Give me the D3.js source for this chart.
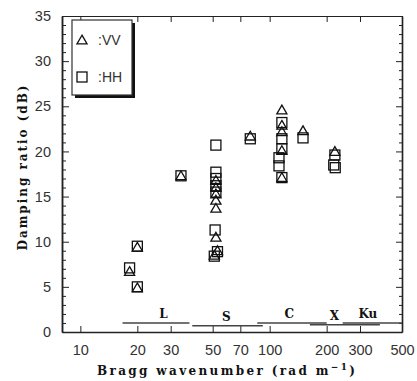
<!DOCTYPE html>
<html><head><meta charset="utf-8">
<script src="https://cdn.jsdelivr.net/npm/d3@7"></script>
<style>body{margin:0;background:#fff}</style>
</head><body>
<script>
// Data
const xTicks = [10, 20, 30, 50, 70, 100, 200, 300, 500];
const yTicks = [0, 5, 10, 15, 20, 25, 30, 35];

const vvK    = [18.2, 20, 20, 34, 52, 52, 52, 52, 52, 52, 51, 53, 79, 116, 116, 116, 116, 116, 150, 221];
const vvDamp = [6.7, 9.4, 4.9, 17.3, 16.8, 16.0, 15.3, 14.6, 13.7, 10.5, 8.5, 9.0, 21.7, 24.6, 22.9, 22.2, 20.1, 17.1, 22.3, 20.0];

const hhK    = [18.2, 20, 20, 34, 52, 52, 52, 52, 52, 51.5, 51, 53, 79, 116, 116, 116, 112, 112, 116, 150, 221, 218, 222];
const hhDamp = [7.1, 9.5, 5.0, 17.3, 20.7, 17.7, 17.0, 16.2, 15.5, 11.3, 8.4, 8.9, 21.4, 23.2, 21.4, 20.3, 19.3, 18.4, 17.1, 21.5, 19.6, 18.5, 18.2];

const bandNames = ["L", "S", "C", "X", "Ku"];
const bandStart = [16.7, 39, 86, 163, 243];
const bandEnd   = [37.7, 92, 200, 382, 500];
const bandLevel = [1.0, 0.7, 1.0, 0.8, 1.0];
const bandLabelK = [27.5, 59, 127, 220, 330];

const W = 417, H = 381;
const m = {l: 62, r: 15, t: 16, b: 49};
const svg = d3.select("body").append("svg").attr("width", W).attr("height", H);

const x = d3.scaleLog().domain([8, 500]).range([m.l, W - m.r]);
const y = d3.scaleLinear().domain([0, 35]).range([H - m.b, m.t]);

const ink = "#222";
// axes frame
const g = svg.append("g");
const xb = g.append("g").attr("transform", `translate(0,${y(0)})`)
  .call(d3.axisBottom(x).tickValues(xTicks).tickFormat(d3.format("d")).tickSizeInner(-6).tickSizeOuter(0).tickPadding(13));
const xt = g.append("g").attr("transform", `translate(0,${y(35)})`)
  .call(d3.axisTop(x).tickValues(xTicks).tickFormat("").tickSizeInner(-6).tickSizeOuter(0));
const yl = g.append("g").attr("transform", `translate(${x(8)},0)`)
  .call(d3.axisLeft(y).tickValues(yTicks).tickSizeInner(-7).tickSizeOuter(0).tickPadding(11));
const ylm = g.append("g").attr("transform", `translate(${x(8)},0)`)
  .call(d3.axisLeft(y).tickValues(d3.range(0, 36, 1).filter(v => v % 5)).tickFormat("").tickSizeInner(-4).tickSizeOuter(0));
const yr = g.append("g").attr("transform", `translate(${x(500)},0)`)
  .call(d3.axisRight(y).tickValues(yTicks).tickFormat("").tickSizeInner(-6).tickSizeOuter(0));
const yrm = g.append("g").attr("transform", `translate(${x(500)},0)`)
  .call(d3.axisRight(y).tickValues(d3.range(0, 36, 1).filter(v => v % 5)).tickFormat("").tickSizeInner(-3).tickSizeOuter(0));

g.selectAll(".domain").attr("stroke", ink).attr("stroke-width", 1.5);
g.selectAll(".tick line").attr("stroke", ink).attr("stroke-width", 1);
g.selectAll(".tick text").attr("font-family", "Liberation Sans, Arial, sans-serif")
  .attr("font-size", 14.5).attr("fill", "#333");
xt.select(".domain").attr("stroke-width", 1.2);
yr.select(".domain").attr("stroke-width", 1.2);

// bands
const bands = svg.append("g");
bandNames.forEach((n, i) => {
  bands.append("line")
    .attr("x1", x(bandStart[i])).attr("x2", x(bandEnd[i]))
    .attr("y1", y(bandLevel[i])).attr("y2", y(bandLevel[i]))
    .attr("stroke", "#444").attr("stroke-width", 1.6);
  bands.append("text")
    .attr("x", x(bandLabelK[i])).attr("y", y(bandLevel[i]) - 5)
    .attr("text-anchor", "middle")
    .attr("font-family", "DejaVu Serif, serif").attr("font-weight", "bold")
    .attr("font-size", 12).attr("fill", "#111").text(n);
});

// markers
const tri = d3.symbol().type(d3.symbolTriangle).size(44);
svg.append("g").selectAll("rect").data(hhK.map((k, i) => [k, hhDamp[i]])).join("rect")
  .attr("x", d => x(d[0]) - 5).attr("y", d => y(d[1]) - 5)
  .attr("width", 10).attr("height", 10)
  .attr("fill", "none").attr("stroke", "#111").attr("stroke-width", 1.3);
svg.append("g").selectAll("path").data(vvK.map((k, i) => [k, vvDamp[i]])).join("path")
  .attr("d", tri).attr("transform", d => `translate(${x(d[0])},${y(d[1]) + 1})`)
  .attr("fill", "none").attr("stroke", "#111").attr("stroke-width", 1.3);

// legend
const lg = svg.append("g");
lg.append("rect").attr("x", 75).attr("y", 23).attr("width", 60).attr("height", 75).attr("fill", "#111");
lg.append("rect").attr("x", 72).attr("y", 20).attr("width", 60).attr("height", 75)
  .attr("fill", "#fff").attr("stroke", "#333").attr("stroke-width", 1.2);
lg.append("path").attr("d", tri).attr("transform", "translate(82,41)")
  .attr("fill", "none").attr("stroke", "#111").attr("stroke-width", 1.3);
lg.append("rect").attr("x", 77).attr("y", 72).attr("width", 10).attr("height", 10)
  .attr("fill", "none").attr("stroke", "#111").attr("stroke-width", 1.3);
lg.append("text").attr("x", 98).attr("y", 45).text(":VV");
lg.append("text").attr("x", 98).attr("y", 82).text(":HH");
lg.selectAll("text").attr("font-family", "Liberation Sans, Arial, sans-serif").attr("font-size", 14).attr("fill", "#333");

// titles
svg.append("text").attr("x", 97).attr("y", 375)
  .attr("textLength", 258).attr("lengthAdjust", "spacing")
  .attr("font-family", "DejaVu Serif, serif").attr("font-weight", "bold").attr("font-size", 12).attr("fill", "#111")
  .html('Bragg wavenumber (rad m<tspan dy="-5" font-size="9">−1</tspan><tspan dy="5">)</tspan>');
svg.append("text").attr("transform", "translate(27,168) rotate(-90)")
  .attr("text-anchor", "middle")
  .attr("textLength", 165).attr("lengthAdjust", "spacing")
  .attr("font-family", "DejaVu Serif, serif").attr("font-weight", "bold").attr("font-size", 12).attr("fill", "#111")
  .text("Damping ratio (dB)");
</script>
</body></html>
